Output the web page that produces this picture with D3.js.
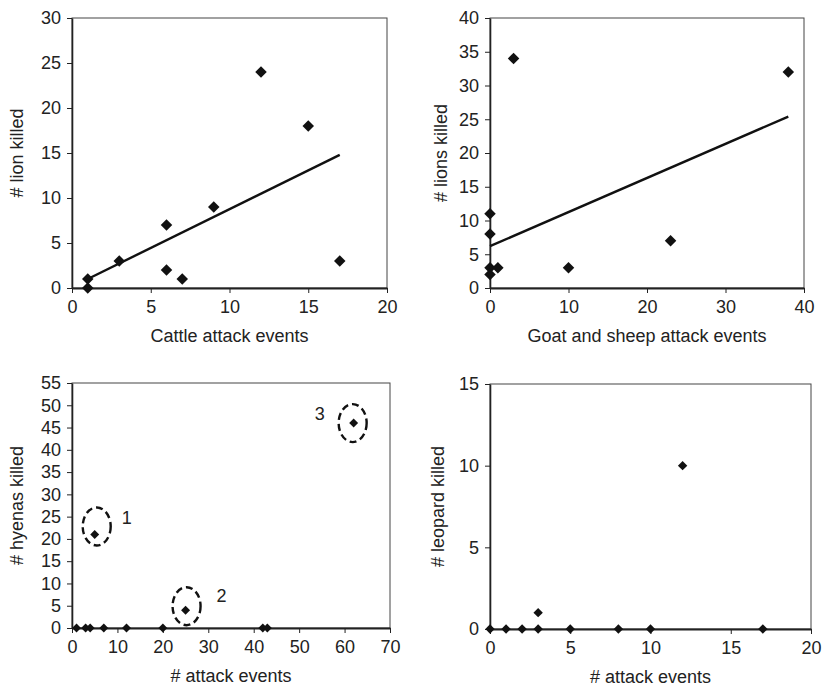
<!DOCTYPE html>
<html>
<head>
<meta charset="utf-8">
<script src="https://cdn.jsdelivr.net/npm/d3@7"></script>
<style>
  body { margin: 0; background: #fff; }
  svg { display: block; font-family: "Liberation Sans", Arial, sans-serif; }
</style>
</head>
<body>
<div id="chart"></div>
<script>
// data
var cattleX = [1, 1, 3, 6, 6, 7, 9, 12, 15, 17];
var cattleLions = [1, 0, 3, 7, 2, 1, 9, 24, 18, 3];
var cattleTrendX = [1, 17];
var cattleTrendY = [1.0, 14.8];

var goatX = [0, 0, 0, 0, 1, 10, 23, 3, 38];
var goatLions = [11, 8, 3, 2, 3, 3, 7, 34, 32];
var goatTrendX = [0, 38];
var goatTrendY = [6.2, 25.4];

var hyenaAttacks = [1, 3, 4, 7, 12, 20, 42, 43, 5, 25, 62];
var hyenasKilled = [0, 0, 0, 0, 0, 0, 0, 0, 21, 4, 46];
var hyenaGroups = ["1", "2", "3"];
var hyenaGroupX = [5, 25, 62];
var hyenaGroupY = [21, 4, 46];

var leopardAttacks = [0, 1, 2, 3, 5, 8, 10, 17, 3, 12];
var leopardsKilled = [0, 0, 0, 0, 0, 0, 0, 0, 1, 10];

// tick labels
var cattleXTicks = [0, 5, 10, 15, 20];
var lionYTicks = [0, 5, 10, 15, 20, 25, 30];
var goatXTicks = [0, 10, 20, 30, 40];
var goatYTicks = [0, 5, 10, 15, 20, 25, 30, 35, 40];
var hyenaXTicks = [0, 10, 20, 30, 40, 50, 60, 70];
var hyenaYTicks = [0, 5, 10, 15, 20, 25, 30, 35, 40, 45, 50, 55];
var leopardXTicks = [0, 5, 10, 15, 20];
var leopardYTicks = [0, 5, 10, 15];

var ink = "#222";
var fontSize = "18px";

var svg = d3.select("#chart")
  .append("svg")
    .attr("width", 823)
    .attr("height", 686);

function drawPanel(p) {
  var g = svg.append("g")
      .attr("transform", "translate(" + p.left + "," + p.top + ")");

  var x = d3.scaleLinear().domain(p.xDomain).range([0, p.width]);
  var y = d3.scaleLinear().domain(p.yDomain).range([p.height, 0]);

  // frame (top + right)
  g.append("rect")
    .attr("width", p.width)
    .attr("height", p.height)
    .attr("fill", "none")
    .attr("stroke", "#444")
    .attr("stroke-width", 1);

  // Y axis
  var ya = g.append("g")
    .call(d3.axisLeft(y).tickValues(p.yTicks).tickSize(5).tickPadding(6).tickSizeOuter(0));
  ya.select(".domain").attr("stroke", ink).attr("stroke-width", 1.6);
  ya.selectAll(".tick line").attr("stroke", ink);
  ya.selectAll("text").attr("fill", ink).style("font-size", fontSize)
    .style("font-family", "Liberation Sans, Arial, sans-serif");

  // X axis
  var xa = g.append("g")
    .attr("transform", "translate(0," + p.height + ")")
    .call(d3.axisBottom(x).tickValues(p.xTicks).tickSize(5).tickPadding(7).tickSizeOuter(0));
  xa.select(".domain").attr("stroke", ink).attr("stroke-width", 2.2);
  xa.selectAll(".tick line").attr("stroke", ink);
  xa.selectAll("text").attr("fill", ink).style("font-size", fontSize)
    .style("font-family", "Liberation Sans, Arial, sans-serif");

  // axis titles
  g.append("text")
    .attr("x", p.width / 2)
    .attr("y", p.height + 54)
    .attr("text-anchor", "middle")
    .attr("fill", ink)
    .style("font-size", fontSize)
    .text(p.xTitle);

  g.append("text")
    .attr("transform", "translate(" + p.yTitleX + "," + (p.height / 2) + ") rotate(-90)")
    .attr("text-anchor", "middle")
    .attr("dominant-baseline", "central")
    .attr("fill", ink)
    .style("font-size", fontSize)
    .text(p.yTitle);

  // trend line
  if (p.trendX) {
    var pts = p.trendX.map(function(d, i) { return [d, p.trendY[i]]; });
    g.append("path")
      .datum(pts)
      .attr("fill", "none")
      .attr("stroke", "#111")
      .attr("stroke-width", 2.4)
      .attr("d", d3.line()
        .x(function(d) { return x(d[0]); })
        .y(function(d) { return y(d[1]); }));
  }

  // diamonds
  var sym = d3.symbol().type(d3.symbolSquare).size(p.markerSize);
  g.selectAll(".pt")
    .data(p.xs.map(function(d, i) { return [d, p.ys[i]]; }))
    .enter()
    .append("path")
      .attr("class", "pt")
      .attr("d", sym)
      .attr("fill", "#111")
      .attr("transform", function(d) {
        return "translate(" + x(d[0]) + "," + y(d[1]) + ") rotate(45)";
      });

  return {g: g, x: x, y: y};
}

drawPanel({
  left: 72, top: 18, width: 315, height: 270,
  xDomain: [0, 20], yDomain: [0, 30],
  xTicks: cattleXTicks, yTicks: lionYTicks,
  xs: cattleX, ys: cattleLions,
  trendX: cattleTrendX, trendY: cattleTrendY,
  xTitle: "Cattle attack events", yTitle: "# lion killed", yTitleX: -55,
  markerSize: 66
});

drawPanel({
  left: 490, top: 18, width: 314, height: 270,
  xDomain: [0, 40], yDomain: [0, 40],
  xTicks: goatXTicks, yTicks: goatYTicks,
  xs: goatX, ys: goatLions,
  trendX: goatTrendX, trendY: goatTrendY,
  xTitle: "Goat and sheep attack events", yTitle: "# lions killed", yTitleX: -49,
  markerSize: 66
});

var hy = drawPanel({
  left: 72, top: 383, width: 318, height: 245,
  xDomain: [0, 70], yDomain: [0, 55],
  xTicks: hyenaXTicks, yTicks: hyenaYTicks,
  xs: hyenaAttacks, ys: hyenasKilled,
  xTitle: "# attack events", yTitle: "# hyenas killed", yTitleX: -55,
  markerSize: 40
});

drawPanel({
  left: 490, top: 384, width: 321, height: 245,
  xDomain: [0, 20], yDomain: [0, 15],
  xTicks: leopardXTicks, yTicks: leopardYTicks,
  xs: leopardAttacks, ys: leopardsKilled,
  xTitle: "# attack events", yTitle: "# leopard killed", yTitleX: -52,
  markerSize: 44
});

// dashed rings + numbers around the three hyena points
var ringOffset = [[2, -8], [1, -4], [-1, 0]];
var labelOffset = [[32, -16], [36, -14], [-34, -9]];

hyenaGroups.forEach(function(name, i) {
  var cx = hy.x(hyenaGroupX[i]), cy = hy.y(hyenaGroupY[i]);
  hy.g.append("ellipse")
    .attr("cx", cx + ringOffset[i][0])
    .attr("cy", cy + ringOffset[i][1])
    .attr("rx", 14)
    .attr("ry", 19)
    .attr("fill", "none")
    .attr("stroke", "#111")
    .attr("stroke-width", 2.4)
    .attr("stroke-dasharray", "7,4");
  hy.g.append("text")
    .attr("x", cx + labelOffset[i][0])
    .attr("y", cy + labelOffset[i][1])
    .attr("text-anchor", "middle")
    .attr("dominant-baseline", "central")
    .attr("fill", ink)
    .style("font-size", fontSize)
    .text(name);
});
</script>
</body>
</html>
